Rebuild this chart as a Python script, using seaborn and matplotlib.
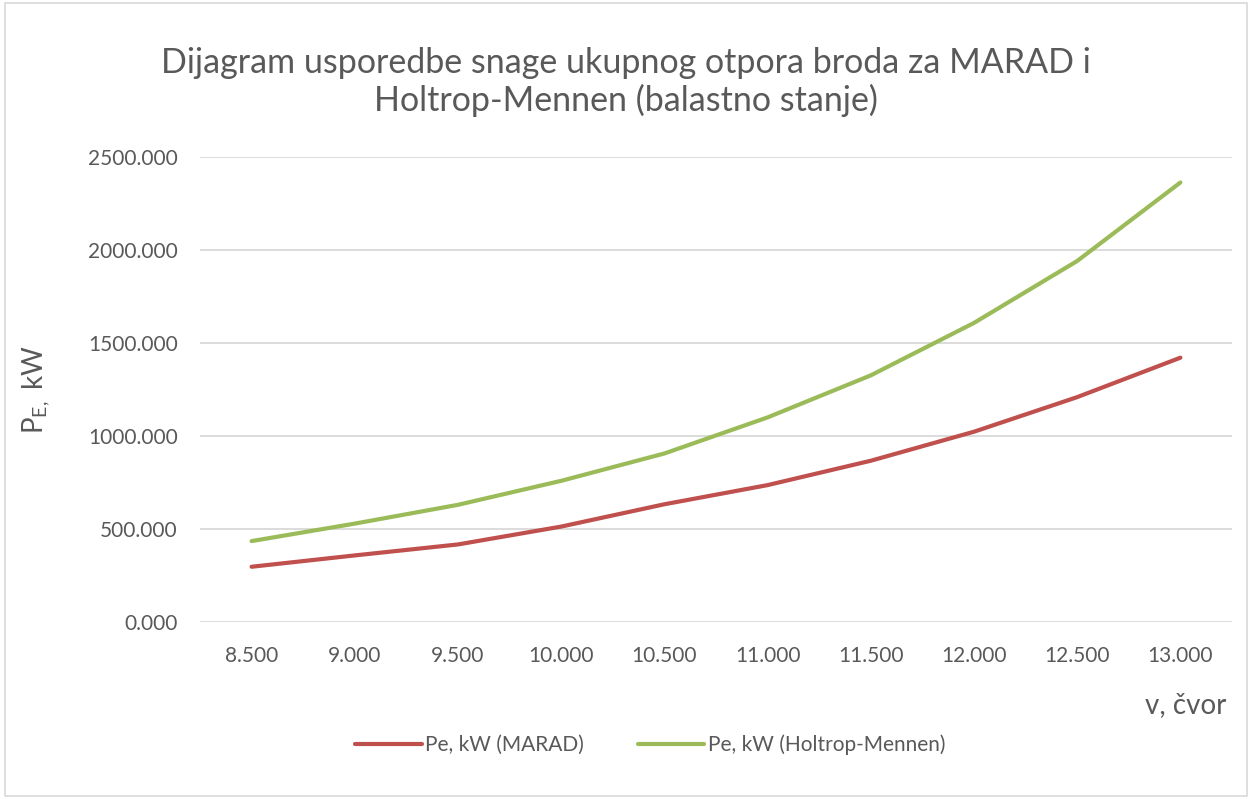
import matplotlib
matplotlib.use("Agg")
import matplotlib.pyplot as plt
import seaborn as sns
import pandas as pd
from matplotlib.patches import Rectangle
from matplotlib.lines import Line2D

speeds = ["8.500", "9.000", "9.500", "10.000", "10.500", "11.000", "11.500", "12.000", "12.500", "13.000"]
marad = [297, 358, 417, 513, 633, 736, 867, 1023, 1209, 1421]
holtrop = [435, 529, 630, 759, 906, 1100, 1326, 1608, 1941, 2363]
series_names = ["Pe, kW (MARAD)", "Pe, kW (Holtrop-Mennen)"]
y_ticks = [0, 500, 1000, 1500, 2000, 2500]

sns.set_theme(style="white")
plt.rcParams['font.family'] = ['Lato', 'DejaVu Sans']

df = pd.DataFrame({
    "pos": list(range(len(speeds))) * 2,
    "value": marad + holtrop,
    "series": [series_names[0]] * len(speeds) + [series_names[1]] * len(speeds),
})

fig = plt.figure(figsize=(12.52, 7.99), dpi=100)
ax = fig.add_axes([200 / 1252, 1 - 622 / 799, (1232 - 200) / 1252, (622 - 157) / 799])

palette = {series_names[0]: "#C0504D", series_names[1]: "#9BBB59"}
sns.lineplot(data=df, x="pos", y="value", hue="series", palette=palette,
             linewidth=3.0, ax=ax, legend=False, solid_capstyle="round")

ax.set_xlim(-0.5, len(speeds) - 0.5)
ax.set_ylim(0, 2500)
ax.set_xticks(range(len(speeds)))
ax.set_xticklabels(speeds)
ax.set_yticks(y_ticks)
ax.set_yticklabels([f"{v:.3f}" for v in y_ticks])
ax.tick_params(axis="both", length=0, labelsize=15, colors="#595959")
ax.tick_params(axis="x", pad=17)
ax.tick_params(axis="y", pad=16)
ax.yaxis.grid(True, color="#d9d9d9", linewidth=1.3)
ax.xaxis.grid(False)
for s in ax.spines.values():
    s.set_visible(False)
ax.set_xlabel("")
ax.set_ylabel("")

fig.text(0.5, 1 - 82 / 799, "Dijagram usporedbe snage ukupnog otpora broda za MARAD i\nHoltrop-Mennen (balastno stanje)",
         ha="center", va="center", fontsize=24.5, color="#595959", linespacing=1.2)

fig.text(36 / 1252, 1 - 390 / 799, r"$\mathregular{P_{E,}}$ kW", rotation=90, ha="center", va="center",
         fontsize=20, color="#595959")
fig.text(1226 / 1252, 1 - 705 / 799, "v, čvor", ha="right", va="center", fontsize=20, color="#595959")

handles = [Line2D([0], [0], color=palette[n], linewidth=3.0) for n in series_names]
fig.legend(handles, series_names, loc="center", bbox_to_anchor=(650 / 1252, 1 - 745 / 799), ncol=2,
           frameon=False, fontsize=15, handlelength=3.2, handletextpad=0.15, columnspacing=2.6,
           labelcolor="#595959")

fig.add_artist(Rectangle((0.004, 0.004), 0.992, 0.992, transform=fig.transFigure, fill=False,
                         edgecolor="#d9d9d9", linewidth=1.2))

fig.savefig("out.png", dpi=100, facecolor="white")
